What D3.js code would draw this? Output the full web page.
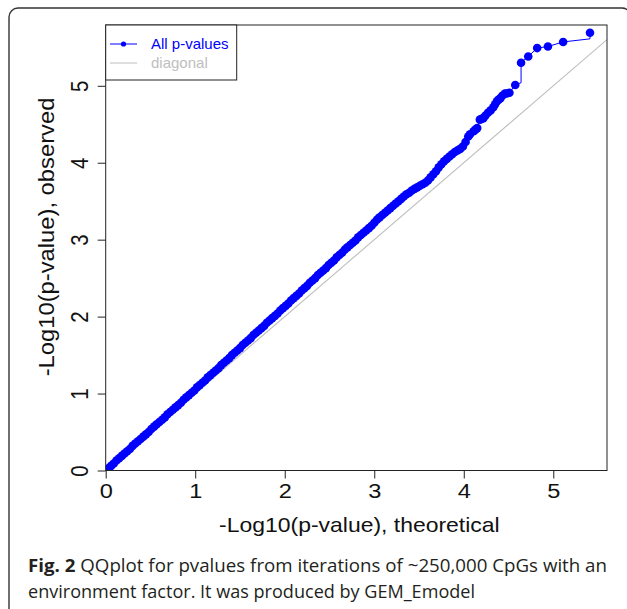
<!DOCTYPE html>
<html><head><meta charset="utf-8">
<script src="https://cdn.jsdelivr.net/npm/d3@7"></script>
<style>
html,body{margin:0;padding:0;background:#fff;}
svg{display:block;}
</style></head>
<body>
<svg id="chart" width="627" height="609"></svg>
<script>
// ---------- data ----------
const theoretical = [
0.00,0.03,0.06,0.09,0.12,0.15,0.18,0.21,0.24,0.27,0.30,0.33,0.36,0.39,0.42,0.45,0.48,0.51,0.54,0.57,
0.60,0.63,0.66,0.69,0.72,0.75,0.78,0.81,0.84,0.87,0.90,0.93,0.96,0.99,1.02,1.05,1.08,1.11,1.14,1.17,
1.20,1.23,1.26,1.29,1.32,1.35,1.38,1.41,1.44,1.47,1.50,1.53,1.56,1.59,1.62,1.65,1.68,1.71,1.74,1.77,
1.80,1.83,1.86,1.89,1.92,1.95,1.98,2.01,2.04,2.07,2.10,2.13,2.16,2.19,2.22,2.25,2.28,2.31,2.34,2.37,
2.40,2.43,2.46,2.49,2.52,2.55,2.58,2.61,2.64,2.67,2.70,2.73,2.76,2.79,2.82,2.85,2.88,2.91,2.94,2.97,
3.00,3.03,3.06,3.09,3.12,3.15,3.18,3.21,3.24,3.27,3.30,3.33,3.36,3.39,3.42,3.45,3.48,3.51,3.54,3.57,
3.60,3.63,3.66,3.69,3.72,3.75,3.78,3.81,3.84,3.87,3.90,3.93,3.96,3.99,4.02,4.05,4.07,4.11,4.13,4.15,
4.18,4.20,4.22,4.24,4.27,4.30,4.33,4.35,4.37,4.39,4.41,4.43,4.46,4.48,4.51,4.575,4.64,4.72,4.82,4.94,
5.11,5.41];
const observed = [
0.00,0.03,0.06,0.09,0.13,0.16,0.19,0.22,0.25,0.28,0.32,0.35,0.38,0.41,0.44,0.47,0.50,0.54,0.57,0.60,
0.63,0.66,0.69,0.73,0.76,0.79,0.82,0.85,0.88,0.92,0.95,0.98,1.01,1.04,1.08,1.11,1.14,1.17,1.21,1.24,
1.27,1.30,1.33,1.37,1.40,1.43,1.46,1.50,1.53,1.56,1.59,1.63,1.66,1.69,1.72,1.76,1.79,1.82,1.85,1.88,
1.92,1.95,1.98,2.01,2.04,2.08,2.11,2.14,2.17,2.21,2.24,2.27,2.30,2.34,2.37,2.40,2.44,2.47,2.50,2.54,
2.57,2.60,2.63,2.67,2.70,2.73,2.77,2.80,2.83,2.87,2.90,2.93,2.96,2.99,3.03,3.06,3.09,3.12,3.15,3.18,
3.22,3.26,3.29,3.32,3.35,3.38,3.41,3.44,3.47,3.50,3.53,3.56,3.59,3.61,3.64,3.66,3.68,3.70,3.72,3.74,
3.77,3.81,3.85,3.89,3.94,3.98,4.02,4.05,4.08,4.11,4.14,4.16,4.18,4.21,4.27,4.34,4.37,4.41,4.43,4.45,
4.56,4.57,4.58,4.61,4.65,4.68,4.72,4.76,4.80,4.82,4.84,4.87,4.90,4.90,4.91,5.01,5.30,5.38,5.49,5.51,
5.57,5.69];
// connecting line (type "o" style) with the two visible step corners
const lineTheoretical = theoretical.slice(0, 155).concat([4.575, 4.64, 4.64, 4.72, 4.82, 4.94, 5.11, 5.41, 5.41]);
const lineObserved    = observed.slice(0, 155).concat([5.01, 5.04, 5.30, 5.38, 5.49, 5.51, 5.57, 5.61, 5.69]);
const diagonal = [0, 5.6];
const xTicks = [0, 1, 2, 3, 4, 5];
const yTicks = [0, 1, 2, 3, 4, 5];
const xDomain = [0, 5.6];
const yDomain = [0, 5.79];
const legendLabels = ["All p-values", "diagonal"];
const xTitle = "-Log10(p-value), theoretical";
const yTitle = "-Log10(p-value), observed";
const captionBold = "Fig. 2";
const captionLine1 = " QQplot for pvalues from iterations of ~250,000 CpGs with an";
const captionLine2 = "environment factor. It was produced by GEM_Emodel";

// ---------- drawing ----------
const svg = d3.select("#chart");
const L = 105.7, R = 607, T = 25, B = 470.5;
const x = d3.scaleLinear().domain(xDomain).range([L, R]);
const y = d3.scaleLinear().domain(yDomain).range([B, T]);
const BLUE = "#0000ff", GREY = "#bebebe";
const plotFont = "'Liberation Sans', Arial, Helvetica, sans-serif";
const SX = 1.15; // horizontal stretch of the source picture

// outer rounded frame
svg.append("rect").attr("x", 9).attr("y", 8).attr("width", 622).attr("height", 700)
  .attr("rx", 9).attr("fill", "none").attr("stroke", "#333").attr("stroke-width", 1.4);

svg.append("clipPath").attr("id", "clip").append("rect")
  .attr("x", L).attr("y", T).attr("width", R - L).attr("height", B - T);

const plot = svg.append("g").attr("clip-path", "url(#clip)");

// diagonal
plot.append("line")
  .attr("x1", x(diagonal[0])).attr("y1", y(diagonal[0]))
  .attr("x2", x(diagonal[1])).attr("y2", y(diagonal[1]))
  .attr("stroke", GREY).attr("stroke-width", 1.1);

// connecting line
plot.append("path")
  .datum(d3.range(lineTheoretical.length))
  .attr("d", d3.line().x(i => x(lineTheoretical[i])).y(i => y(lineObserved[i])))
  .attr("fill", "none").attr("stroke", BLUE).attr("stroke-width", 1);

// points
plot.selectAll("circle.pt").data(d3.range(theoretical.length)).join("circle")
  .attr("class", "pt")
  .attr("cx", i => x(theoretical[i])).attr("cy", i => y(observed[i]))
  .attr("r", 4.3).attr("fill", BLUE);

// plot box
svg.append("rect").attr("x", L).attr("y", T).attr("width", R - L).attr("height", B - T)
  .attr("fill", "none").attr("stroke", "#222").attr("stroke-width", 1);

// x axis
const gx = svg.append("g").attr("transform", `translate(0,${B})`)
  .call(d3.axisBottom(x).tickValues(xTicks).tickFormat(d3.format("d")).tickSize(8).tickPadding(5));
gx.select(".domain").remove();
gx.selectAll("line").attr("stroke", "#222");
gx.selectAll("text").attr("font-family", plotFont).attr("font-size", 20.5).attr("fill", "#111")
  .attr("transform", `scale(${SX},1)`).attr("x", 0).attr("y", 13).attr("dy", "0.71em");

// y axis
const gy = svg.append("g").attr("transform", `translate(${L},0)`)
  .call(d3.axisLeft(y).tickValues(yTicks).tickFormat(d3.format("d")).tickSize(8));
gy.select(".domain").remove();
gy.selectAll("line").attr("stroke", "#222");
gy.selectAll("text").attr("font-family", plotFont).attr("font-size", 20.5).attr("fill", "#111")
  .attr("x", null).attr("dy", null).attr("text-anchor", "middle")
  .attr("transform", `translate(-18,0) scale(${SX},1) rotate(-90)`).attr("y", 0);

// axis titles
svg.append("text").attr("font-family", plotFont).attr("font-size", 20.5).attr("fill", "#111")
  .attr("text-anchor", "middle")
  .attr("transform", `translate(${(L + R) / 2 + 3},532) scale(1.12,1)`)
  .text(xTitle);
svg.append("text").attr("font-family", plotFont).attr("font-size", 20.5).attr("fill", "#111")
  .attr("text-anchor", "middle")
  .attr("transform", `translate(54,${237}) rotate(-90) scale(1.16,1.1)`)
  .text(yTitle);

// legend
const lg = svg.append("g");
lg.append("rect").attr("x", L).attr("y", T).attr("width", 131).attr("height", 55)
  .attr("fill", "#fff").attr("stroke", "#222").attr("stroke-width", 1);
lg.append("line").attr("x1", 110).attr("x2", 137).attr("y1", 44).attr("y2", 44)
  .attr("stroke", BLUE).attr("stroke-width", 1);
lg.append("circle").attr("cx", 123.5).attr("cy", 44).attr("r", 2.6).attr("fill", BLUE);
lg.append("line").attr("x1", 110).attr("x2", 137).attr("y1", 63).attr("y2", 63)
  .attr("stroke", GREY).attr("stroke-width", 1);
lg.selectAll("text.lab").data(legendLabels).join("text").attr("class", "lab")
  .attr("x", 151).attr("y", (d, i) => 44 + i * 19).attr("dy", "0.36em")
  .attr("font-family", plotFont).attr("font-size", 15)
  .attr("fill", (d, i) => i === 0 ? BLUE : GREY)
  .text(d => d);

// caption
const capFont = "'Open Sans', 'Noto Sans', sans-serif";
const c1 = svg.append("text").attr("x", 28).attr("y", 572)
  .attr("font-family", capFont).attr("font-size", 18).attr("fill", "#231f20")
  .attr("textLength", 579).attr("lengthAdjust", "spacingAndGlyphs");
c1.append("tspan").attr("font-weight", "bold").text(captionBold);
c1.append("tspan").text(captionLine1);
svg.append("text").attr("x", 28).attr("y", 598)
  .attr("font-family", capFont).attr("font-size", 18).attr("fill", "#231f20")
  .attr("textLength", 447).attr("lengthAdjust", "spacingAndGlyphs")
  .text(captionLine2);
</script>
</body></html>
